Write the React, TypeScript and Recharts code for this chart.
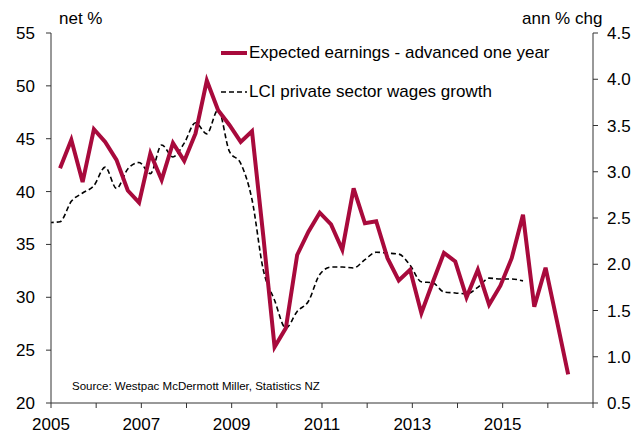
import React from 'react';
import { LineChart, Line, XAxis, YAxis, Legend } from 'recharts';

// quarterly observations, first LCI point sits just before the axis start
const firstQuarter = 2004.95;

// Westpac McDermott Miller expected earnings, advanced one year (net %), starts one quarter after LCI
const expectedEarnings = [
  42.2, 44.9, 40.9, 45.9, 44.7, 43.0, 40.1, 38.95, 43.6, 41.1, 44.6, 42.9,
  45.5, 50.5, 47.7, 46.3, 44.7, 45.7, 35.8, 25.3, 27.1, 34.0, 36.2, 38.0,
  36.9, 34.5, 40.3, 37.0, 37.2, 33.7, 31.6, 32.6, 28.5, 31.4, 34.2, 33.4,
  30.0, 32.6, 29.3, 31.1, 33.7, 37.8, 29.1, 32.8, 27.8, 22.7,
];

// LCI private sector wages growth (ann % chg)
const lciWages = [
  2.45, 2.46, 2.68, 2.77, 2.85, 3.05, 2.82, 3.03, 3.10, 2.98, 3.29, 3.16,
  3.31, 3.53, 3.41, 3.67, 3.22, 3.09, 2.70, 1.94, 1.61, 1.31, 1.49, 1.60,
  1.89, 1.97, 1.97, 1.96, 2.05, 2.13, 2.12, 2.11, 1.99, 1.81, 1.80, 1.70,
  1.69, 1.68, 1.75, 1.85, 1.84, 1.84, 1.82,
];

const xTicks = [2005, 2006, 2007, 2008, 2009, 2010, 2011, 2012, 2013, 2014, 2015, 2016, 2017];
const xLabels = [2005, 2007, 2009, 2011, 2013, 2015];
const leftTicks = [20, 25, 30, 35, 40, 45, 50, 55];
const rightTicks = [0.5, 1.0, 1.5, 2.0, 2.5, 3.0, 3.5, 4.0, 4.5];

const RED = '#A80A3C';
const FONT = '"Liberation Sans", Arial, sans-serif';

const rowCount = Math.max(lciWages.length, expectedEarnings.length + 1);
const data = Array.from({ length: rowCount }, (_, i) => ({
  t: firstQuarter + i * 0.25,
  lci: i < lciWages.length ? lciWages[i] : null,
  earnings: i >= 1 && i - 1 < expectedEarnings.length ? expectedEarnings[i - 1] : null,
}));

const legendItems = [
  { label: 'Expected earnings - advanced one year', color: RED, width: 4, dash: undefined },
  { label: 'LCI private sector wages growth', color: '#000', width: 1.6, dash: '5 3' },
];

const renderLegend = () => (
  <div style={{ fontFamily: FONT, fontSize: 17, color: '#000' }}>
    {legendItems.map((item) => (
      <div key={item.label} style={{ display: 'flex', alignItems: 'center', height: 38.4 }}>
        <svg width={28} height={10} style={{ display: 'block' }}>
          <line x1={0} x2={26} y1={5} y2={5} stroke={item.color} strokeWidth={item.width} strokeDasharray={item.dash} />
        </svg>
        <span style={{ whiteSpace: 'nowrap' }}>{item.label}</span>
      </div>
    ))}
  </div>
);

const axisStyle = { fontFamily: FONT, fontSize: 17, fill: '#000' };

export default function App() {
  return (
    <div style={{ position: 'absolute', left: 0, top: 0, width: 644, height: 430, background: '#fff', fontFamily: FONT }}>
      <div style={{ position: 'absolute', left: 59, top: 9, fontSize: 17, color: '#000' }}>net %</div>
      <div style={{ position: 'absolute', left: 522, top: 9, fontSize: 17, color: '#000' }}>ann % chg</div>
      <div style={{ position: 'absolute', left: 72, top: 380, fontSize: 11.5, color: '#000', zIndex: 2 }}>
        Source: Westpac McDermott Miller, Statistics NZ
      </div>
      <LineChart width={644} height={430} data={data} margin={{ top: 33, right: 0, bottom: 0, left: 0 }}>
        <XAxis
          dataKey="t"
          type="number"
          domain={[2005, 2017]}
          ticks={xTicks}
          allowDataOverflow
          height={27}
          tickSize={5}
          tickMargin={10}
          interval={0}
          tickFormatter={(v: number) => (xLabels.includes(v) ? String(v) : '')}
          tick={axisStyle}
          stroke="#333"
        />
        <YAxis
          yAxisId="left"
          domain={[20, 55]}
          ticks={leftTicks}
          width={51}
          tickSize={5}
          tickMargin={11}
          interval={0}
          tick={axisStyle}
          stroke="#333"
        />
        <YAxis
          yAxisId="right"
          orientation="right"
          domain={[0.5, 4.5]}
          ticks={rightTicks}
          width={51}
          tickSize={5}
          tickMargin={9}
          interval={0}
          tickFormatter={(v: number) => v.toFixed(1)}
          tick={{ ...axisStyle, textAnchor: 'start' }}
          stroke="#333"
        />
        <Legend
          verticalAlign="middle"
          align="center"
          layout="vertical"
          content={renderLegend}
          wrapperStyle={{ position: 'absolute', left: 221, top: 34, width: 360 }}
        />
        <Line
          yAxisId="right"
          dataKey="lci"
          type="monotone"
          stroke="#000"
          strokeWidth={1.6}
          strokeDasharray="5 3"
          dot={false}
          connectNulls={false}
          isAnimationActive={false}
        />
        <Line
          yAxisId="left"
          dataKey="earnings"
          type="linear"
          stroke={RED}
          strokeWidth={4}
          dot={false}
          connectNulls={false}
          isAnimationActive={false}
        />
      </LineChart>
    </div>
  );
}
